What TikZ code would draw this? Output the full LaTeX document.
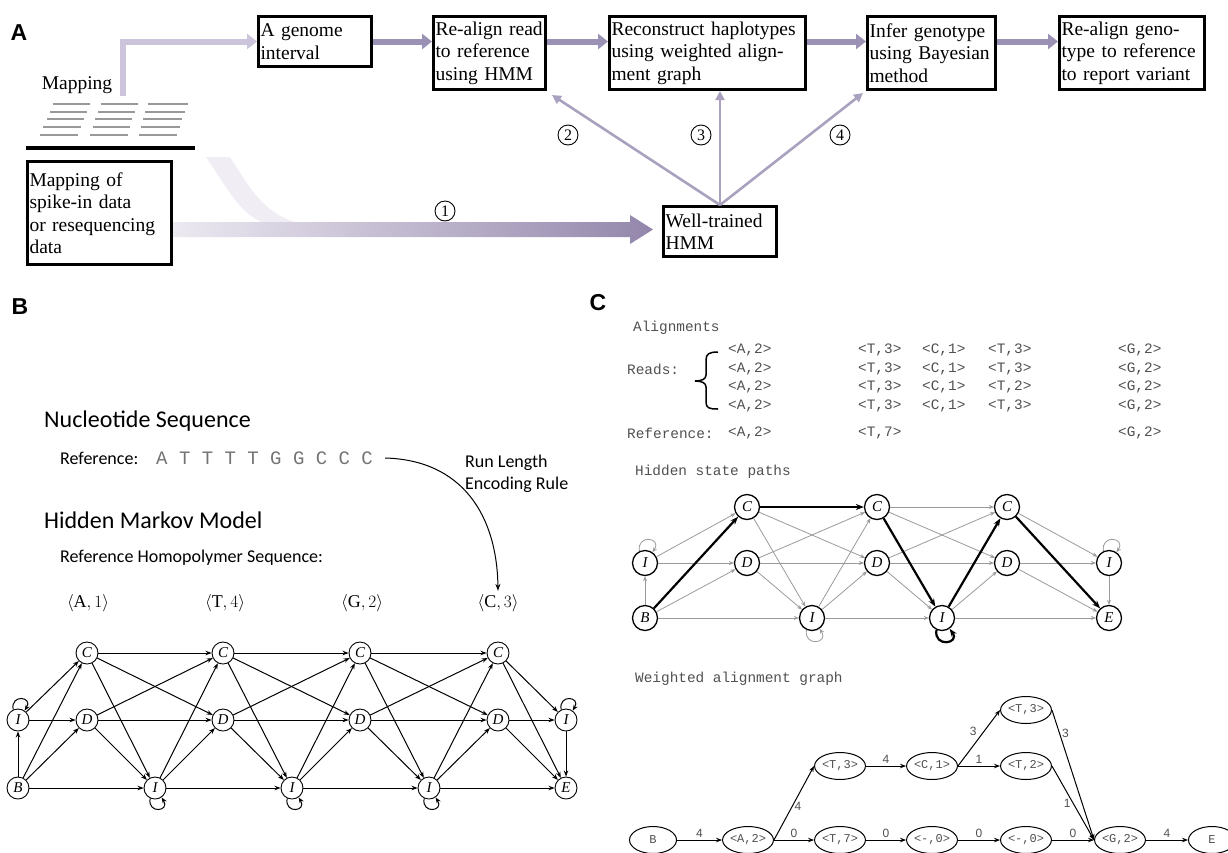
\documentclass[tikz,border=0pt]{standalone}
\usepackage{fontspec}
\setmainfont{Liberation Serif}
\newfontfamily\calfont{Carlito}
\newfontfamily\cmono{Liberation Mono}
\newfontfamily\csans{Liberation Sans}
\usetikzlibrary{arrows.meta,shapes.geometric,decorations.pathreplacing}

\definecolor{lilac}{HTML}{9B91B4}
\definecolor{lilaclight}{HTML}{CBC4DA}
\definecolor{lilacpale}{HTML}{ECE9F1}
\definecolor{lilacdark}{HTML}{9386AB}
\definecolor{edgegray}{HTML}{9A9A9A}
\definecolor{txtgray}{HTML}{505050}

\tikzset{
  plabel/.style={font=\csans\bfseries\fontsize{23}{23}\selectfont},
  stepbox/.style={draw, line width=3pt, align=left, inner xsep=2pt, inner ysep=1pt,
    font=\fontsize{19.5}{22.5}\selectfont},
  numcirc/.style={circle, draw, line width=0.9pt, minimum size=20pt, inner sep=0pt,
    font=\fontsize{16}{16}\selectfont},
  flow/.style={line width=6pt, lilac, -{Triangle[length=10pt,width=15pt]}},
  flowlight/.style={line width=6pt, lilaclight, -{Triangle[length=10pt,width=15pt]}},
  flowthin/.style={line width=2.6pt, lilac!85, -{Triangle[length=9pt,width=9pt]}},
  hstate/.style={circle, draw, line width=0.9pt, minimum size=22pt, inner sep=0pt,
    font=\fontsize{15}{15}\selectfont\itshape},
  cstate/.style={circle, draw, line width=1.3pt, minimum size=25pt, inner sep=0pt,
    font=\fontsize{15}{15}\selectfont\itshape},
  wstate/.style={ellipse, draw, line width=1pt, minimum width=47pt, minimum height=27pt,
    inner sep=0pt, font=\cmono\fontsize{12}{12}\selectfont, text=txtgray},
  bedge/.style={draw, line width=1pt, -{Stealth[length=6pt,width=4.5pt]}},
  gedge/.style={draw, line width=0.8pt, edgegray, -{Stealth[length=5pt,width=4pt]}},
  tedge/.style={draw, line width=2.2pt, -{Stealth[length=8pt,width=6pt]}},
  wedge/.style={draw, line width=1pt, -{Stealth[length=6pt,width=4.5pt]}},
  wlab/.style={font=\csans\fontsize{12}{12}\selectfont, text=txtgray, inner sep=2pt},
  calt/.style={anchor=west, inner sep=0pt, font=\calfont\fontsize{18}{22}\selectfont},
  calbig/.style={anchor=west, inner sep=0pt, font=\calfont\fontsize{24}{24}\selectfont},
  mono/.style={anchor=west, inner sep=0pt, font=\cmono\fontsize{14.4}{14.4}\selectfont, text=txtgray},
  rlabel/.style={font=\fontsize{18}{18}\selectfont}
}

\begin{document}
\begin{tikzpicture}[x=1pt, y=-1pt]
  \useasboundingbox (0,0) rectangle (1228,852);

  % panel A
  \node[plabel] (pa) at (19,33) {A};

  \node[stepbox, text width=109pt, minimum height=50pt] at (315,41.5) (gen) {A genome\\interval};
  \node[stepbox, text width=108pt, minimum height=73pt] at (489.5,53) (realign) {Re-align read\\to reference\\using HMM};
  \node[stepbox, text width=192pt, minimum height=73pt] at (707.5,53) (recon) {Reconstruct haplotypes\\using weighted align-\\ment graph};
  \node[stepbox, text width=124pt, minimum height=73pt] at (931.5,53) (infer) {Infer genotype\\using Bayesian\\method};
  \node[stepbox, text width=141pt, minimum height=73pt] at (1132,53) (report) {Re-align geno-\\type to reference\\to report variant};
  \node[stepbox, text width=140pt, minimum height=103pt] at (99.5,213) (mapdata) {Mapping of\\spike-in data\\or resequencing\\data};
  \node[stepbox, text width=109pt, minimum height=50pt] at (720,231.5) (hmm) {Well-trained\\HMM};

  \node[font=\fontsize{19.5}{19.5}\selectfont] at (77,85) (maplab) {Mapping};

  % mapped reads
  \draw[line width=2.5pt, black!40] (53,104) -- (90,104) (101,104) -- (138,104) (148,104) -- (188,104);
  \draw[line width=2.5pt, black!40] (50,112) -- (87,112) (98,112) -- (135,112) (145,112) -- (185,112);
  \draw[line width=2.5pt, black!40] (47,119) -- (84,119) (95,119) -- (132,119) (143,119) -- (182,119);
  \draw[line width=2.5pt, black!40] (43,127) -- (81,127) (93,127) -- (130,127) (141,127) -- (180,127);
  \draw[line width=2.5pt, black!40] (40,135) -- (78,135) (90,135) -- (128,135) (139,135) -- (177,135);
  \draw[line width=4pt] (26,148) -- (195,148);

  \coordinate (mapup) at (123,96);
  \draw[flowlight] (mapup) |- (gen.west);

  \draw[flow] (gen.east) -- (realign.west |- gen.east);
  \draw[flow] (realign.east |- gen.east) -- (recon.west |- gen.east);
  \draw[flow] (recon.east |- gen.east) -- (infer.west |- gen.east);
  \draw[flow] (infer.east |- gen.east) -- (report.west |- gen.east);

  % training band
  \fill[lilacpale!80] (206,157) .. controls (225,185) and (240,214) .. (262,222) -- (295,222)
    .. controls (262,212) and (248,185) .. (230,157) -- cycle;
  \shade[left color=lilacpale, right color=lilacdark] (mapdata.east |- 0,222) -- (630,222) -- (630,215)
    -- (653,229.5) -- (630,244) -- (630,237) -- (mapdata.east |- 0,237) -- cycle;

  \draw[flowthin] (hmm.north) -- ([xshift=5pt,yshift=-4pt]realign.south east);
  \draw[flowthin] (hmm.north) -- (recon.south -| hmm.north);
  \draw[flowthin] (hmm.north) -- ([xshift=-3pt,yshift=-2pt]infer.south west);

  \node[numcirc] at (445,211) (n1) {1};
  \node[numcirc] at (568,135) (n2) {2};
  \node[numcirc] at (701,135) (n3) {3};
  \node[numcirc] at (840,135) (n4) {4};

  % panel B
  \node[plabel] (pb) at (20,307) {B};
  \node[calbig] at (44,421) (nucl) {Nucleotide Sequence};
  \node[calt] at (60,458) (refl) {Reference:};
  \node[anchor=west, inner sep=0pt, font=\cmono\fontsize{19}{19}\selectfont, text=black!55] at (156,458) (seq) {A T T T T G G C C C};
  \node[calt, align=left] at (465,474) (rle) {Run Length\\Encoding Rule};
  \node[calbig] at (44,520) (hmmt) {Hidden Markov Model};
  \node[calt] at (60,558) (homo) {Reference Homopolymer Sequence:};

  \node[rlabel] at (88,603) (la1) {$\langle\mathrm{A},1\rangle$};
  \node[rlabel] at (225,603) (la2) {$\langle\mathrm{T},4\rangle$};
  \node[rlabel] at (362,603) (la3) {$\langle\mathrm{G},2\rangle$};
  \node[rlabel] at (498,603) (la4) {$\langle\mathrm{C},3\rangle$};

  \draw[line width=1pt, -{Stealth[length=7pt,width=5pt]}] ([xshift=12pt]seq.east)
    .. controls (462,460) and (497,515) .. (la4.north);

  \node[hstate] at (18,720) (i0) {I};
  \node[hstate] at (18,788) (b0) {B};
  \node[hstate] at (87,653) (c1) {C};
  \node[hstate] at (87,720) (d1) {D};
  \node[hstate] at (155,788) (i1) {I};
  \node[hstate] at (223,653) (c2) {C};
  \node[hstate] at (223,720) (d2) {D};
  \node[hstate] at (292,788) (i2) {I};
  \node[hstate] at (360,653) (c3) {C};
  \node[hstate] at (360,720) (d3) {D};
  \node[hstate] at (429,788) (i3) {I};
  \node[hstate] at (498,653) (c4) {C};
  \node[hstate] at (498,720) (d4) {D};
  \node[hstate] at (566,720) (i4) {I};
  \node[hstate] at (566,788) (e0) {E};

  \path[bedge] (i0) edge (c1) (i0) edge (d1);
  \path[bedge] (b0) edge (i0) (b0) edge (c1) (b0) edge (d1) (b0) edge (i1);
  \path[bedge] (c1) edge (c2) (c1) edge (d2) (c1) edge (i1);
  \path[bedge] (d1) edge (c2) (d1) edge (d2) (d1) edge (i1);
  \path[bedge] (i1) edge (c2) (i1) edge (d2) (i1) edge (i2);
  \path[bedge] (c2) edge (c3) (c2) edge (d3) (c2) edge (i2);
  \path[bedge] (d2) edge (c3) (d2) edge (d3) (d2) edge (i2);
  \path[bedge] (i2) edge (c3) (i2) edge (d3) (i2) edge (i3);
  \path[bedge] (c3) edge (c4) (c3) edge (d4) (c3) edge (i3);
  \path[bedge] (d3) edge (c4) (d3) edge (d4) (d3) edge (i3);
  \path[bedge] (i3) edge (c4) (i3) edge (d4) (i3) edge (e0);
  \path[bedge] (c4) edge (i4) (c4) edge (e0);
  \path[bedge] (d4) edge (i4) (d4) edge (e0);
  \path[bedge] (i4) edge (e0);

  \draw[bedge] (i0.115) .. controls +(-3,-16) and +(9,-14) .. (i0.55);
  \draw[bedge] (i4.115) .. controls +(-3,-16) and +(9,-14) .. (i4.55);
  \draw[bedge] (i1.245) .. controls +(-3,16) and +(9,14) .. (i1.305);
  \draw[bedge] (i2.245) .. controls +(-3,16) and +(9,14) .. (i2.305);
  \draw[bedge] (i3.245) .. controls +(-3,16) and +(9,14) .. (i3.305);

  % panel C
  \node[plabel] (pc) at (598,303) {C};
  \node[mono] at (633,328) (algn) {Alignments};
  \node[mono] at (627,369) (reads) {Reads:};
  \draw[line width=1.5pt] (718,352) .. controls (709,352) and (706,354) .. (706,360) -- (706,375)
    .. controls (706,379) and (702,381) .. (695,381) .. controls (702,381) and (706,383) .. (706,387)
    -- (706,402) .. controls (706,408) and (709,409) .. (718,409);

  \node[mono] at (728,350) (r1a) {<A,2>}; \node[mono] at (858,350) (r1b) {<T,3>}; \node[mono] at (922,350) (r1c) {<C,1>};
  \node[mono] at (988,350) (r1d) {<T,3>}; \node[mono] at (1118,350) (r1e) {<G,2>};
  \node[mono] at (728,369) (r2a) {<A,2>}; \node[mono] at (858,369) (r2b) {<T,3>}; \node[mono] at (922,369) (r2c) {<C,1>};
  \node[mono] at (988,369) (r2d) {<T,3>}; \node[mono] at (1118,369) (r2e) {<G,2>};
  \node[mono] at (728,387) (r3a) {<A,2>}; \node[mono] at (858,387) (r3b) {<T,3>}; \node[mono] at (922,387) (r3c) {<C,1>};
  \node[mono] at (988,387) (r3d) {<T,2>}; \node[mono] at (1118,387) (r3e) {<G,2>};
  \node[mono] at (728,406) (r4a) {<A,2>}; \node[mono] at (858,406) (r4b) {<T,3>}; \node[mono] at (922,406) (r4c) {<C,1>};
  \node[mono] at (988,406) (r4d) {<T,3>}; \node[mono] at (1118,406) (r4e) {<G,2>};

  \node[mono] at (627,433) (refc) {Reference:};
  \node[mono] at (728,433) (fa) {<A,2>};
  \node[mono] at (858,433) (fb) {<T,7>};
  \node[mono] at (1118,433) (fc) {<G,2>};

  \node[mono] at (635,472) (paths) {Hidden state paths};

  \node[cstate] at (645,563) (ci0) {I};
  \node[cstate] at (645,618) (cb) {B};
  \node[cstate] at (747,507) (cc1) {C};
  \node[cstate] at (747,563) (cd1) {D};
  \node[cstate] at (812,618) (ci1) {I};
  \node[cstate] at (877,507) (cc2) {C};
  \node[cstate] at (877,563) (cd2) {D};
  \node[cstate] at (942,618) (ci2) {I};
  \node[cstate] at (1007,507) (cc3) {C};
  \node[cstate] at (1007,563) (cd3) {D};
  \node[cstate] at (1109,563) (ci3) {I};
  \node[cstate] at (1109,618) (ce) {E};

  \path[gedge] (ci0) edge (cc1) (ci0) edge (cd1);
  \path[gedge] (cb) edge (ci0) (cb) edge (cd1) (cb) edge (ci1);
  \path[gedge] (cc1) edge (cd2) (cc1) edge (ci1);
  \path[gedge] (cd1) edge (cc2) (cd1) edge (cd2) (cd1) edge (ci1);
  \path[gedge] (ci1) edge (cc2) (ci1) edge (cd2) (ci1) edge (ci2);
  \path[gedge] (cc2) edge (cc3) (cc2) edge (cd3);
  \path[gedge] (cd2) edge (cc3) (cd2) edge (cd3) (cd2) edge (ci2);
  \path[gedge] (ci2) edge (cd3) (ci2) edge (ce);
  \path[gedge] (cc3) edge (ci3);
  \path[gedge] (cd3) edge (ci3) (cd3) edge (ce);
  \path[gedge] (ci3) edge (ce);
  \draw[gedge] (ci0.115) .. controls +(-3,-17) and +(10,-15) .. (ci0.55);
  \draw[gedge] (ci3.115) .. controls +(-3,-17) and +(10,-15) .. (ci3.55);
  \draw[gedge] (ci1.245) .. controls +(-3,17) and +(10,15) .. (ci1.305);

  \path[tedge] (cb) edge (cc1) (cc1) edge (cc2) (cc2) edge (ci2) (ci2) edge (cc3) (cc3) edge (ce);
  \draw[tedge] (ci2.245) .. controls +(-3,18) and +(11,15) .. (ci2.305);

  \node[mono] at (635,679) (wgraph) {Weighted alignment graph};

  \node[wstate] at (653,840) (wb) {B};
  \node[wstate] at (748,840) (wa2) {<A,2>};
  \node[wstate] at (840,766) (wt3a) {<T,3>};
  \node[wstate] at (840,840) (wt7) {<T,7>};
  \node[wstate] at (932,766) (wc1) {<C,1>};
  \node[wstate] at (932,840) (wm0a) {<-,0>};
  \node[wstate] at (1026,710) (wt3b) {<T,3>};
  \node[wstate] at (1026,766) (wt2) {<T,2>};
  \node[wstate] at (1026,840) (wm0b) {<-,0>};
  \node[wstate] at (1120,840) (wg2) {<G,2>};
  \node[wstate] at (1212,840) (we) {E};

  \draw[wedge] (wb) -- node[wlab, above] {4} (wa2);
  \draw[wedge] (wa2.east) -- node[wlab, right, pos=0.45] {4} (wt3a.west);
  \draw[wedge] (wa2) -- node[wlab, above] {0} (wt7);
  \draw[wedge] (wt3a) -- node[wlab, above] {4} (wc1);
  \draw[wedge] (wt7) -- node[wlab, above] {0} (wm0a);
  \draw[wedge] (wc1.east) -- node[wlab, above left, pos=0.5] {3} (wt3b.west);
  \draw[wedge] (wc1) -- node[wlab, above] {1} (wt2);
  \draw[wedge] (wm0a) -- node[wlab, above] {0} (wm0b);
  \draw[wedge] (wt3b.east) -- node[wlab, right, pos=0.18] {3} (wg2.west);
  \draw[wedge] (wt2.east) -- node[wlab, left, pos=0.5] {1} (wg2.west);
  \draw[wedge] (wm0b) -- node[wlab, above] {0} (wg2);
  \draw[wedge] (wg2) -- node[wlab, above] {4} (we);
\end{tikzpicture}
\end{document}
